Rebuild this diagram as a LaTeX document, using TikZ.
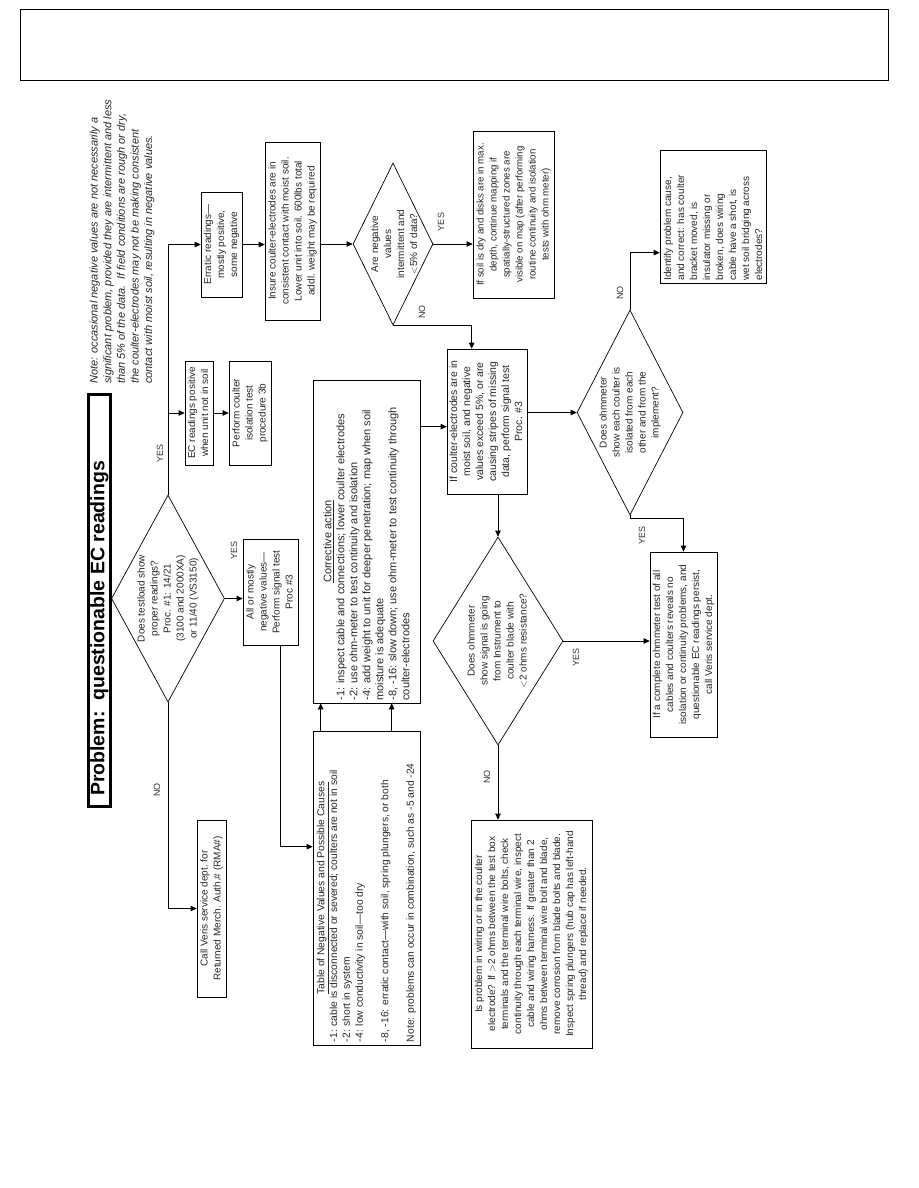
\documentclass[tikz,border=0pt]{standalone}
\usepackage{graphicx}
\usepackage{fontspec}
\setmainfont{Liberation Sans}
\usetikzlibrary{shapes.geometric,arrows.meta,calc}
\newcommand{\txtfont}{\fontsize{10}{13}\selectfont}
\newcommand{\lblfont}{\fontsize{9}{10}\selectfont}
\newcommand{\rtc}[1]{\rotatebox{90}{\begin{tabular}{@{}c@{}}#1\end{tabular}}}
\newcommand{\rtp}[2]{\rotatebox{90}{\parbox{#1}{\raggedright #2}}}
\tikzset{
  box/.style={draw, line width=0.7pt, inner sep=1pt, font=\txtfont, text=black!85},
  dia/.style={draw, diamond, line width=0.7pt, inner sep=0pt},
  diatext/.style={inner sep=0pt, font=\txtfont, text=black!85},
  arr/.style={line width=0.7pt, -{Triangle[length=6pt,width=5.5pt]}},
  lbl/.style={rotate=90, font=\lblfont, inner sep=0pt, text=black!80}
}
\begin{document}
\begin{tikzpicture}[x=1pt,y=-1pt]
\useasboundingbox (0,0) rectangle (918,1188);

% header
\node[draw, line width=0.8pt, minimum width=868pt, minimum height=71pt, inner sep=0pt] (header) at (454,44.5) {};

% title
\node[draw, line width=2.6pt, minimum width=22pt, minimum height=412pt, inner sep=0pt] (title) at (99.5,600.5)
  {\rotatebox{90}{\fontsize{19.5}{22}\selectfont\bfseries Problem:\ \ questionable EC readings\hspace{56pt}}};

% note
\node[anchor=south west, inner sep=0pt, font=\fontsize{11}{13.6}\selectfont\itshape, text=black!85] (note) at (88,384)
  {\rotatebox{90}{\begin{tabular}{@{}l@{}}Note: occasional negative values are not necessarily a\\
  significant problem, provided they are intermittent and less\\
  than 5\% of the data.\ \ If field conditions are rough or dry,\\
  the coulter-electrodes may not be making consistent\\
  contact with moist soil, resulting in negative values.\end{tabular}}};

% boxes
\node[box, minimum width=41pt, minimum height=105pt] (err) at (221.5,244.5)
  {\rtc{Erratic readings---\\mostly positive,\\some negative}};
\node[box, minimum width=28pt, minimum height=104pt] (ecp) at (199,413)
  {\rtc{EC readings positive\\when unit not in soil}};
\node[box, minimum width=42pt, minimum height=104pt] (pct) at (250,413)
  {\rtc{Perform coulter\\isolation test\\procedure 3b}};
\node[box, minimum width=55pt, minimum height=178pt] (ins) at (292.5,231)
  {\rtc{Insure coulter-electrodes are in\\consistent contact with moist soil.\\Lower unit into soil. 600lbs total\\addl. weight may be required}};
\node[box, minimum width=81pt, minimum height=167pt, font=\fontsize{9.7}{13}\selectfont] (dry) at (513.5,214.5)
  {\rtc{If soil is dry and disks are in max.\\depth, continue mapping if\\spatially-structured zones are\\visible on map (after performing\\routine continuity and isolation\\tests with ohm meter)}};
\node[box, minimum width=80pt, minimum height=145pt, font=\fontsize{10.5}{13}\selectfont] (ifc) at (487,421.5)
  {\rtc{If coulter-electrodes are in\\moist soil, and negative\\values exceed 5\%, or are\\causing stripes of missing\\data, perform signal test\\Proc. \#3}};
\node[box, minimum width=55pt, minimum height=106pt] (allneg) at (270.5,592)
  {\rtc{All or mostly\\negative values---\\Perform signal test\\Proc \#3}};
\node[box, minimum width=29pt, minimum height=177pt] (call) at (211.5,908.5)
  {\rtc{Call Veris service dept.\ for\\Returned Merch. Auth.\# (RMA\#)}};
\node[box, minimum width=107pt, minimum height=314pt, font=\fontsize{10.3}{12.8}\selectfont] (table) at (366.5,888)
  {\rtp{308pt}{\centerline{\underline{Table of Negative Values and Possible Causes}}
  -1: cable is disconnected or severed; coulters are not in soil\\
  -2: short in system\\
  -4: low conductivity in soil---too dry\\[12.8pt]
  -8, -16: erratic contact---with soil, spring plungers, or both\\[12.8pt]
  Note: problems can occur in combination, such as -5 and -24}};
\node[box, minimum width=107pt, minimum height=323pt, font=\fontsize{11}{13}\selectfont] (corr) at (366.5,541.5)
  {\rtp{318pt}{\centerline{\underline{Corrective action}}
  -1: inspect cable and connections; lower coulter electrodes\\
  -2: use ohm-meter to test continuity and isolation\\
  -4: add weight to unit for deeper penetration; map when soil\\
  moisture is adequate\\
  -8, -16: slow down; use ohm-meter to test continuity through\\
  coulter-electrodes}};
\node[box, minimum width=121pt, minimum height=228pt] (isp) at (531.5,934)
  {\rtc{Is problem in wiring or in the coulter\\electrode? If $>$2 ohms between the test box\\terminals and the terminal wire bolts, check\\continuity through each terminal wire, inspect\\cable and wiring harness. If greater than 2\\ohms between terminal wire bolt and blade,\\remove corrosion from blade bolts and blade.\\Inspect spring plungers (hub cap has left-hand\\thread) and replace if needed.}};
\node[box, minimum width=67pt, minimum height=185pt] (comp) at (683.5,644.5)
  {\rtc{If a complete ohmmeter test of all\\cables and coulters reveals no\\isolation or continuity problems, and\\questionable EC readings persist,\\call Veris service dept.}};
\node[box, minimum width=106pt, minimum height=133pt] (ident) at (713,216.5)
  {\rtp{128pt}{Identify problem cause,\\and correct: has coulter\\bracket moved, is\\insulator missing or\\broken, does wiring\\cable have a shot, is\\wet soil bridging across\\electrodes?}};

% diamonds
\node[dia, minimum width=113pt, minimum height=207pt] (d1) at (168,598.5) {};
\node[diatext] (d1t) at (d1) {\rtc{Does testload show\\proper readings?\\Proc. \#1: 14/21\\(3100 and 2000XA)\\or 11/40 (VS3150)}};
\node[dia, minimum width=80pt, minimum height=162pt] (d2) at (393,244) {};
\node[diatext] (d2t) at ([xshift=2pt]d2) {\rtc{Are negative\\values\\intermittent and\\$<$5\% of data?}};
\node[dia, minimum width=130pt, minimum height=208pt] (d3) at (498,641) {};
\node[diatext] (d3t) at (d3) {\rtc{Does ohmmeter\\show signal is going\\from Instrument to\\coulter blade with\\$<$2 ohms resistance?}};
\node[dia, minimum width=106pt, minimum height=205pt] (d4) at (630,412.5) {};
\node[diatext] (d4t) at (d4) {\rtc{Does ohmmeter\\show each coulter is\\isolated from each\\other and from the\\implement?}};

% connectors
\draw[arr] (d1.north) |- (err.west);
\draw[arr] (d1.north |- ecp.west) -- (ecp.west);
\draw[arr] (ecp.east) -- (pct.west);
\draw[arr] (err.east) -- (err.east -| ins.west);
\draw[arr] (ins.east |- d2.west) -- (d2.west);
\draw[arr] (d2.east) -- (d2.east -| dry.west);
\draw[arr] (d2.south) -| ($(ifc.north west)+(25,0)$);
\draw[arr] (d1.east) -- (d1.east -| allneg.west);
\draw[arr] (d1.south) |- (call.west);
\draw[arr] ($(allneg.south)+(10,0)$) |- ($(table.north west)+(0,116)$);
\draw[arr] ($(table.north west)+(8,0)$) -- ($(corr.south west)+(8,0)$);
\draw[arr] ($(table.north west)+(79,0)$) -- ($(corr.south west)+(79,0)$);
\coordinate (c1) at ($(corr.north east)+(0,47)$);
\draw[arr] (c1) -- (c1 -| ifc.west);
\draw[arr] (ifc.south -| d3.north) -- (d3.north);
\draw[arr] (ifc.east |- d4.west) -- (d4.west);
\draw[arr] (d3.south) -- (d3.south |- isp.north);
\draw[arr] (d3.east) -- (d3.east -| comp.west);
\draw[arr] (d4.south) -- ($(d4.south)+(0,3)$) -| (comp.north);
\draw[arr] (d4.north) |- ($(ident.north west)+(0,103)$);

% labels
\node[lbl] (l1) at (160,453) {YES};
\node[lbl] (l2) at (157,790) {NO};
\node[lbl] (l3) at (234,550) {YES};
\node[lbl] (l4) at (441,222) {YES};
\node[lbl] (l5) at (422,312) {NO};
\node[lbl] (l6) at (487,777) {NO};
\node[lbl] (l7) at (576,657) {YES};
\node[lbl] (l8) at (642,535) {YES};
\node[lbl] (l9) at (620,293) {NO};
\end{tikzpicture}
\end{document}
